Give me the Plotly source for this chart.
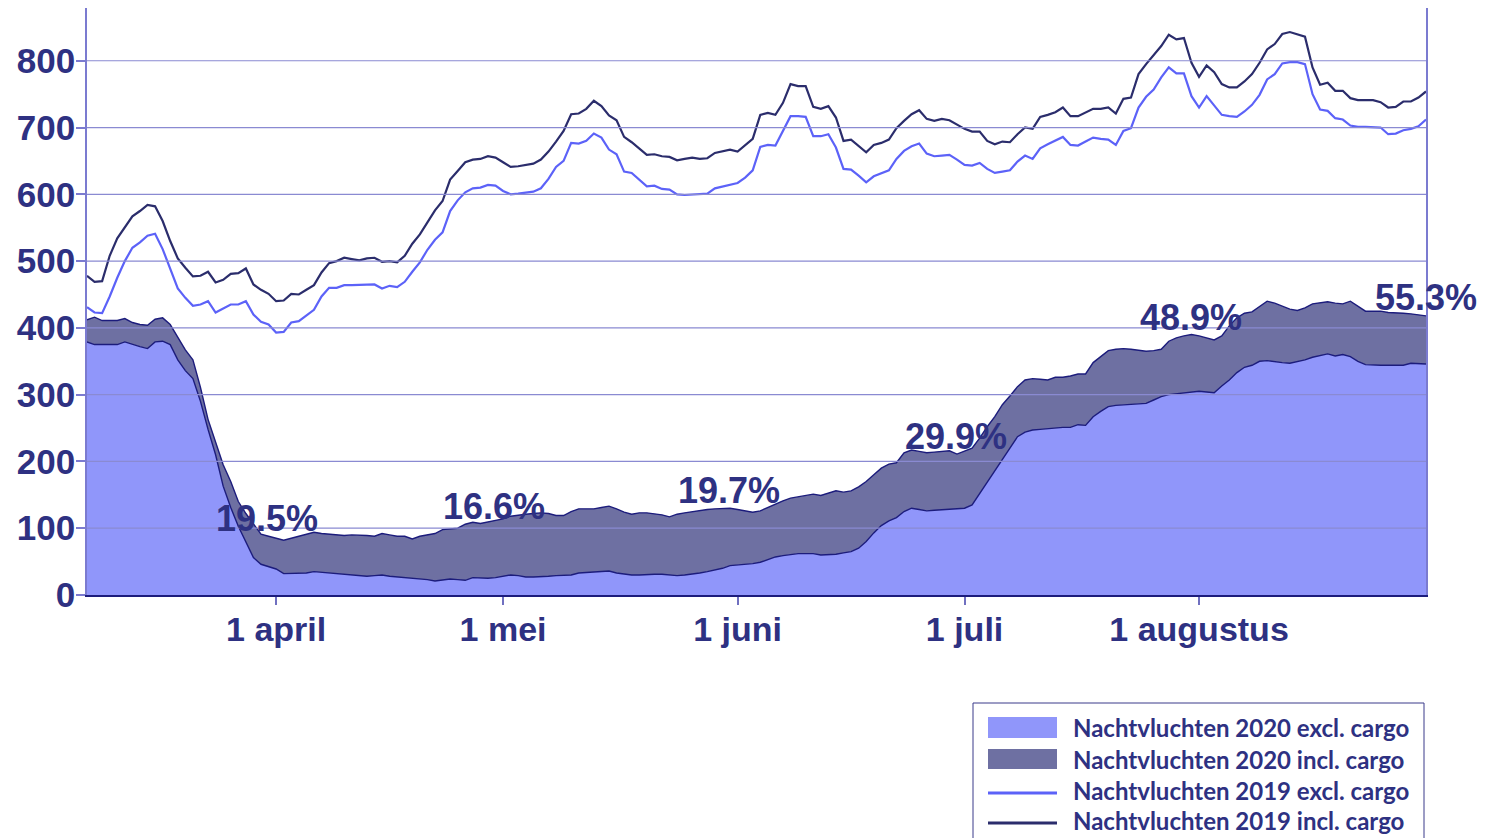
import pandas as pd
import plotly.graph_objects as go

# nachtvluchten per dag, 7 maart t/m 31 augustus
excl_2020 = [379, 375, 375, 375, 375, 379, 375, 372, 369, 379,
             380, 375, 352, 336, 324, 290, 248, 210, 163, 131,
             103, 79, 56, 46, 43, 39, 32, 32, 32, 33,
             35, 34, 32, 32, 31, 30, 29, 28, 29, 30,
             28, 27, 27, 26, 25, 23, 21, 23, 24, 23,
             22, 26, 25, 25, 26, 28, 30, 29, 27, 27,
             27, 28, 29, 30, 30, 33, 34, 35, 36, 36,
             33, 31, 30, 30, 31, 31, 31, 30, 29, 30,
             31, 33, 35, 37, 40, 44, 45, 45, 47, 49,
             53, 57, 59, 61, 62, 62, 62, 60, 60, 61,
             63, 65, 70, 80, 93, 104, 111, 116, 125, 130,
             128, 126, 127, 128, 129, 130, 130, 135, 152, 170,
             186, 202, 219, 237, 244, 247, 248, 249, 251, 251,
             251, 255, 254, 267, 275, 282, 284, 285, 286, 286,
             287, 292, 297, 300, 301, 302, 303, 305, 304, 303,
             313, 322, 333, 341, 344, 350, 351, 349, 348, 347,
             349, 352, 356, 358, 361, 358, 360, 357, 350, 345,
             344, 344, 344, 344, 344, 347, 346, 346]

incl_2020 = [412, 416, 411, 411, 411, 414, 408, 405, 404, 413,
             415, 405, 386, 367, 352, 311, 263, 228, 195, 170,
             140, 122, 106, 91, 88, 85, 82, 85, 88, 91,
             94, 92, 91, 89, 89, 90, 90, 89, 88, 92,
             90, 88, 88, 84, 88, 90, 92, 98, 99, 100,
             106, 109, 107, 109, 111, 114, 118, 120, 121, 122,
             123, 122, 119, 119, 125, 129, 129, 129, 131, 133,
             129, 124, 121, 123, 123, 122, 120, 117, 121, 123,
             125, 126, 128, 129, 130, 130, 128, 126, 124, 126,
             131, 137, 141, 145, 147, 148, 151, 149, 152, 156,
             154, 156, 162, 170, 180, 190, 196, 198, 213, 217,
             215, 213, 214, 215, 216, 211, 215, 220, 235, 252,
             267, 285, 298, 312, 322, 324, 323, 322, 326, 326,
             328, 331, 331, 348, 357, 366, 368, 369, 368, 366,
             365, 366, 368, 380, 385, 388, 390, 388, 385, 382,
             388, 403, 415, 422, 424, 432, 440, 437, 433, 428,
             426, 430, 436, 438, 439, 437, 436, 440, 432, 425,
             425, 425, 423, 423, 422, 421, 419, 418]

excl_2019 = [431, 423, 422, 447, 475, 500, 520, 528, 538, 541,
             518, 490, 459, 445, 433, 435, 440, 423, 429, 435,
             435, 440, 420, 409, 405, 393, 394, 408, 410, 419,
             427, 447, 460, 460, 464, 464, 464, 464, 465, 459,
             463, 461, 469, 484, 498, 517, 532, 543, 575, 591,
             603, 609, 610, 614, 613, 605, 600, 601, 602, 604,
             609, 623, 641, 650, 677, 676, 680, 691, 685, 667,
             660, 634, 632, 622, 612, 613, 608, 607, 600, 599,
             600, 601, 601, 609, 612, 615, 617, 625, 636, 671,
             674, 673, 696, 717, 717, 716, 687, 687, 690, 670,
             638, 637, 628, 618, 627, 632, 636, 653, 665, 672,
             676, 661, 657, 658, 659, 652, 644, 643, 647, 638,
             632, 634, 636, 649, 658, 653, 669, 675, 680, 686,
             674, 673, 679, 685, 683, 682, 674, 695, 699, 730,
             746, 757, 775, 790, 781, 781, 747, 730, 747, 733,
             719, 717, 716, 724, 734, 749, 772, 780, 796, 798,
             798, 795, 750, 727, 725, 714, 712, 703, 701, 701,
             701, 700, 690, 691, 696, 698, 702, 712]

incl_2019 = [478, 469, 470, 508, 534, 550, 567, 575, 584, 582,
             560, 530, 504, 490, 477, 478, 484, 468, 472, 481,
             482, 489, 465, 457, 451, 440, 441, 451, 450, 457,
             464, 483, 497, 500, 505, 503, 501, 504, 505, 499,
             500, 498, 508, 526, 540, 558, 576, 590, 622, 635,
             648, 652, 653, 657, 655, 648, 641, 642, 644, 646,
             652, 664, 679, 695, 720, 721, 728, 740, 732, 718,
             711, 686, 678, 668, 659, 660, 657, 656, 651, 653,
             655, 653, 654, 662, 665, 667, 664, 673, 683, 719,
             722, 719, 737, 765, 762, 762, 731, 728, 732, 715,
             680, 682, 672, 663, 674, 677, 682, 699, 710, 720,
             726, 713, 710, 713, 711, 704, 698, 694, 694, 680,
             675, 679, 678, 690, 700, 698, 716, 719, 723, 730,
             717, 717, 722, 728, 728, 730, 721, 743, 745, 780,
             795, 808, 822, 839, 832, 834, 797, 776, 793, 783,
             765, 760, 760, 769, 780, 797, 817, 825, 840, 843,
             840, 836, 790, 764, 767, 755, 755, 744, 741, 741,
             741, 738, 730, 731, 739, 739, 745, 754]

dates = pd.date_range("2020-03-07", periods=len(excl_2020), freq="D")

month_ticks = ["2020-04-01", "2020-05-01", "2020-06-01", "2020-07-01", "2020-08-01"]
month_labels = ["1 april", "1 mei", "1 juni", "1 juli", "1 augustus"]
y_ticks = [0, 100, 200, 300, 400, 500, 600, 700, 800]

# percentage 2020 t.o.v. 2019, label positions
pct_labels = ["19.5%", "16.6%", "19.7%", "29.9%", "48.9%", "55.3%"]
pct_x = ["2020-03-30 19:00", "2020-04-29 19:00", "2020-05-30 20:00",
         "2020-06-29 20:00", "2020-07-30 22:00", "2020-08-30 23:00"]
pct_y = [114, 133, 156, 237, 416, 445]

legend_names = ["Nachtvluchten 2020 excl. cargo", "Nachtvluchten 2020 incl. cargo",
                "Nachtvluchten 2019 excl. cargo", "Nachtvluchten 2019 incl. cargo"]

NAVY = "#2e3182"
EDGE = "#1c1c7c"
C_EXCL20 = "#9096fa"
C_INCL20 = "#6e70a2"
C_EXCL19 = "#5c62f8"
C_INCL19 = "#2b2d6c"

# the browser page keeps its default 8px body margin, so the figure is
# made 8px smaller and every screen position is shifted by OFF
OFF = 8
W, H = 1506 - OFF, 838 - OFF
L, R, T, B = 87 - OFF, 80, 0, 243


def px(x):
    return (x - OFF - L) / (W - L - R)


def py(y):
    return (H - B - (y - OFF)) / (H - B - T)


fig = go.Figure()
fig.add_trace(go.Scatter(x=dates, y=excl_2020, mode="lines", fill="tozeroy",
                         fillcolor=C_EXCL20, line=dict(color=EDGE, width=1.4),
                         name=legend_names[0]))
fig.add_trace(go.Scatter(x=dates, y=incl_2020, mode="lines", fill="tonexty",
                         fillcolor=C_INCL20, line=dict(color=EDGE, width=1.4),
                         name=legend_names[1]))
fig.add_trace(go.Scatter(x=dates, y=excl_2019, mode="lines",
                         line=dict(color=C_EXCL19, width=2.2), name=legend_names[2]))
fig.add_trace(go.Scatter(x=dates, y=incl_2019, mode="lines",
                         line=dict(color=C_INCL19, width=2.2), name=legend_names[3]))

# gridlines drawn over the areas, like the original
for v in y_ticks[1:]:
    fig.add_shape(type="line", xref="paper", yref="y", x0=0, x1=1, y0=v, y1=v,
                  line=dict(color="#8a8ad2", width=1.2), layer="above")

for lab, xx, yy in zip(pct_labels, pct_x, pct_y):
    fig.add_annotation(x=xx, y=yy, text=lab, showarrow=False,
                       font=dict(family="Liberation Sans", size=36, color=NAVY, weight="bold"))

# legend box, drawn by hand
fig.add_shape(type="rect", xref="paper", yref="paper", x0=px(973), x1=px(1424),
              y0=py(703), y1=py(860), line=dict(color="#3a3a8a", width=1),
              fillcolor="white")
rows = [727, 759, 790, 820]
fig.add_shape(type="rect", xref="paper", yref="paper", x0=px(988), x1=px(1057),
              y0=py(717), y1=py(738), line=dict(width=0), fillcolor=C_EXCL20)
fig.add_shape(type="rect", xref="paper", yref="paper", x0=px(988), x1=px(1057),
              y0=py(749), y1=py(769), line=dict(width=0), fillcolor=C_INCL20)
fig.add_shape(type="line", xref="paper", yref="paper", x0=px(988), x1=px(1057),
              y0=py(793), y1=py(793), line=dict(color=C_EXCL19, width=3))
fig.add_shape(type="line", xref="paper", yref="paper", x0=px(988), x1=px(1057),
              y0=py(823), y1=py(823), line=dict(color=C_INCL19, width=3))
for name, r in zip(legend_names, rows):
    fig.add_annotation(xref="paper", yref="paper", x=px(1071), y=py(r), text=name,
                       showarrow=False, xanchor="left", yanchor="middle",
                       font=dict(family="Lato", size=24, color=NAVY, weight="bold"))

fig.update_layout(
    width=W, height=H,
    margin=dict(l=L, r=R, t=T, b=B),
    paper_bgcolor="white", plot_bgcolor="white",
    showlegend=False,
    xaxis=dict(type="date", range=[dates[0], dates[-1]],
               tickvals=month_ticks, ticktext=month_labels,
               ticks="outside", ticklen=8, tickcolor="#7070c0", tickwidth=1.5,
               ticklabelstandoff=-5,
               showgrid=False, zeroline=False, showline=True,
               linecolor=EDGE, linewidth=2, layer="above traces",
               tickfont=dict(family="Liberation Sans", size=34, color=NAVY, weight="bold")),
    yaxis=dict(range=[0, 879], tickvals=y_ticks,
               ticks="outside", ticklen=9, tickcolor="#7b7bd0", tickwidth=1.5,
               ticklabelstandoff=-6,
               showgrid=False, zeroline=False, showline=True, mirror=True,
               linecolor="#7b7bd0", linewidth=1.5, layer="above traces",
               tickfont=dict(family="Liberation Sans", size=35, color=NAVY, weight="bold")),
)

fig.write_html("out.html")
